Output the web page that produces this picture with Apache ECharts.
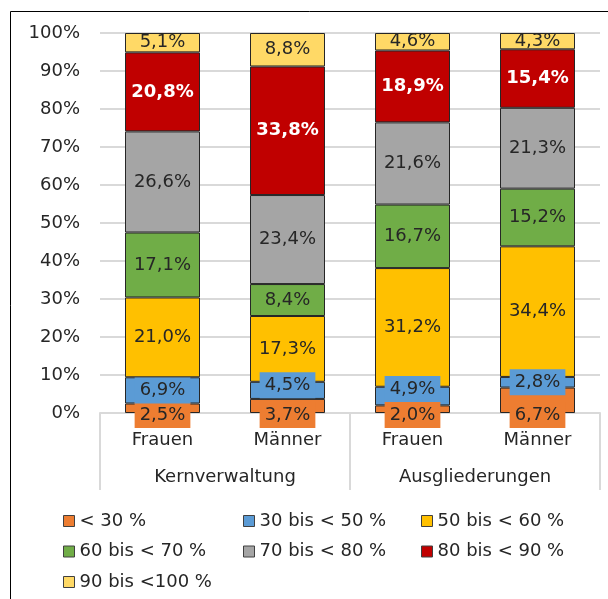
<!DOCTYPE html>
<html>
<head>
<meta charset="utf-8">
<script src="https://cdn.jsdelivr.net/npm/echarts@6/dist/echarts.min.js"></script>
<style>
  html, body { margin: 0; padding: 0; background: #fff; }
  #chart { width: 608px; height: 599px; }
</style>
</head>
<body>
<div id="chart"></div>
<script>
// bars, left to right
const categories = ['Frauen', 'Männer', 'Frauen', 'Männer']
const groups = ['Kernverwaltung', 'Ausgliederungen']

// shares per band (in %), bottom to top of the stack
const seriesNames = ['< 30 %', '30 bis < 50 %', '50 bis < 60 %', '60 bis < 70 %', '70 bis < 80 %', '80 bis < 90 %', '90 bis <100 %']
const under30 = [2.5, 3.7, 2.0, 6.7]
const from30to50 = [6.9, 4.5, 4.9, 2.8]
const from50to60 = [21.0, 17.3, 31.2, 34.4]
const from60to70 = [17.1, 8.4, 16.7, 15.2]
const from70to80 = [26.6, 23.4, 21.6, 21.3]
const from80to90 = [20.8, 33.8, 18.9, 15.4]
const from90to100 = [5.1, 8.8, 4.6, 4.3]

const yTicks = [0, 10, 20, 30, 40, 50, 60, 70, 80, 90, 100]

const values = [under30, from30to50, from50to60, from60to70, from70to80, from80to90, from90to100]
const colors = ['#ED7D31', '#5B9BD5', '#FFC000', '#70AD47', '#A5A5A5', '#C00000', '#FFD966']
// Excel moved a few of the small labels a little
const blueLabelShift = [0, -5, -7, 0]

const FONT = 'DejaVu Sans'
const TXT = '#262626'
const GRIDC = '#d9d9d9'

const fmt = (v) => v.toFixed(1).replace('.', ',') + '%'

// 100% stacked: scale each bar to its total
const totals = categories.map((c, i) => values.reduce((s, arr) => s + arr[i], 0))

const series = values.map((arr, si) => {
    const label = {
        show: true,
        position: 'inside',
        fontFamily: FONT,
        fontSize: 18,
        lineHeight: 20,
        color: TXT,
        formatter: (p) => fmt(arr[p.dataIndex])
    }
    if (si === 5) {
        label.color = '#fff'
        label.fontWeight = 'bold'
    }
    if (si === 0 || si === 1) {
        label.backgroundColor = colors[si]
        label.padding = [3, 5]
    }
    if (si === 0) {
        label.position = 'insideBottom'
        label.distance = 0
        label.offset = [0, 15]
    }
    return {
        name: seriesNames[si],
        type: 'bar',
        stack: 'total',
        barWidth: 75,
        itemStyle: { color: colors[si], borderColor: '#262626', borderWidth: 1 },
        label: label,
        data: arr.map((v, i) => {
            const item = { value: v / totals[i] * 100 }
            if (si === 1 && blueLabelShift[i]) {
                item.label = { offset: [0, blueLabelShift[i]] }
            }
            return item
        })
    }
})

const chart = echarts.init(document.getElementById('chart'), null, { renderer: 'canvas' })

const legendBase = {
    orient: 'vertical',
    top: 511,
    height: 88,
    padding: 0,
    icon: 'rect',
    itemWidth: 11,
    itemHeight: 11,
    itemGap: 10.5,
    itemStyle: { borderColor: '#404040', borderWidth: 1 },
    textStyle: { fontFamily: FONT, fontSize: 18, lineHeight: 20, color: TXT },
    selectedMode: false
}

chart.setOption({
    animation: false,
    backgroundColor: '#fff',
    color: colors,
    grid: { left: 100, right: 8, top: 33, bottom: 186 },
    legend: [
        Object.assign({}, legendBase, { left: 63, data: [seriesNames[0], seriesNames[3], seriesNames[6]] }),
        Object.assign({}, legendBase, { left: 243, data: [seriesNames[1], seriesNames[4]] }),
        Object.assign({}, legendBase, { left: 421, data: [seriesNames[2], seriesNames[5]] })
    ],
    xAxis: [
        {
            type: 'category',
            position: 'bottom',
            data: categories,
            axisLine: { lineStyle: { color: GRIDC, width: 2 } },
            axisTick: { show: false },
            axisLabel: { fontFamily: FONT, fontSize: 18, color: TXT, margin: 18, interval: 0 }
        },
        {
            type: 'category',
            position: 'bottom',
            data: groups,
            axisLine: { show: false },
            axisTick: { show: true, length: 77, interval: 0, lineStyle: { color: GRIDC, width: 2 } },
            axisLabel: { fontFamily: FONT, fontSize: 18, color: TXT, margin: 55, interval: 0 }
        }
    ],
    yAxis: {
        type: 'value',
        min: yTicks[0],
        max: yTicks[yTicks.length - 1],
        interval: yTicks[1] - yTicks[0],
        axisLine: { show: false },
        axisTick: { show: false },
        splitLine: { lineStyle: { color: GRIDC, width: 2 } },
        axisLabel: { fontFamily: FONT, fontSize: 18, color: TXT, margin: 20, formatter: '{value}%' }
    },
    graphic: [{
        type: 'rect',
        shape: { x: 10.5, y: 11.5, width: 700, height: 700 },
        style: { fill: 'none', stroke: '#000', lineWidth: 1 },
        silent: true
    }],
    series: series
})
</script>
</body>
</html>
